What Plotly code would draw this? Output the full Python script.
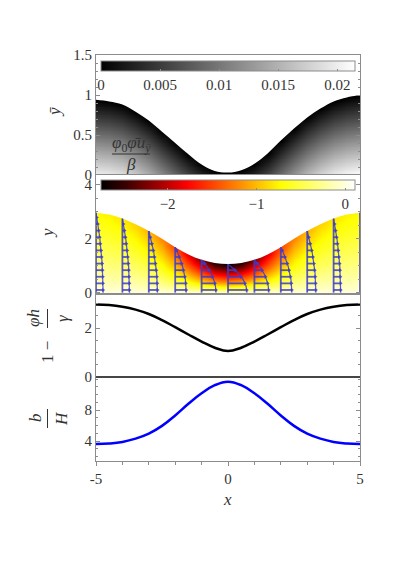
import numpy as np
import plotly.graph_objects as go
from plotly.subplots import make_subplots

# sample positions along x (every 0.5)
x_pts = np.arange(-5, 5.01, 0.5)

# top of the gray field, panel 1 (y bar)
ybar_top = [0.94, 0.92, 0.88, 0.79, 0.68, 0.54, 0.40, 0.26, 0.13, 0.05, 0.03,
            0.06, 0.14, 0.27, 0.43, 0.58, 0.72, 0.83, 0.92, 0.97, 1.00]
# top of the layer, panel 2 (y)
h_top = [2.97, 2.90, 2.75, 2.54, 2.29, 2.00, 1.69, 1.42, 1.22, 1.10, 1.06,
         1.10, 1.22, 1.42, 1.69, 2.00, 2.29, 2.54, 2.75, 2.90, 2.97]
# 1 - phi h / gamma, panel 3
one_minus = [2.97, 2.95, 2.88, 2.76, 2.58, 2.33, 2.04, 1.74, 1.45, 1.20, 1.06,
             1.20, 1.45, 1.74, 2.04, 2.33, 2.58, 2.76, 2.88, 2.95, 2.97]
# b / H, panel 4
b_over_H = [3.6, 3.68, 3.88, 4.3, 4.95, 5.95, 7.3, 8.8, 10.15, 11.2, 11.65,
            11.2, 10.15, 8.8, 7.3, 5.95, 4.95, 4.3, 3.88, 3.68, 3.6]

# velocity profiles drawn in panel 2
prof_x = [-5, -4, -3, -2, -1, 0, 1, 2, 3, 4, 5]
prof_umax = [0.27, 0.27, 0.33, 0.42, 0.55, 0.72, 0.55, 0.42, 0.33, 0.27, 0.27]

gray_ticks = [0, 0.005, 0.01, 0.015, 0.02]
gray_text = ['0', '0.005', '0.01', '0.015', '0.02']
heat_ticks = [-2, -1, 0]

FONT = 'Liberation Serif'
AX = '#8c8c8c'
BLUE = 'rgba(60,60,205,0.85)'

# the page body adds an 8px margin, so the figure is drawn 8px smaller
OFF = 8


def px(xp):
    return (xp - 96) / 264


def py(yp):
    return (461 - yp) / 406


fig = make_subplots(rows=4, cols=1, shared_xaxes=True, vertical_spacing=0,
                    row_heights=[120, 119, 83, 84])

# panel 1: gray field below the curve
ys1 = np.linspace(0, 1.05, 106)
z1 = [[0.0215 * max(t - y, 0) for t in ybar_top] for y in ys1]
fig.add_trace(go.Heatmap(
    x=x_pts, y=ys1, z=z1, zsmooth='best', zmin=0, zmax=0.0215,
    colorscale=[[0, 'black'], [1, 'white']], hoverinfo='skip',
    colorbar=dict(orientation='h', x=0.5, xanchor='center', y=py(61), yanchor='top',
                  len=254 / 264, thickness=10, xpad=0, ypad=0,
                  outlinecolor=AX, outlinewidth=1,
                  tickvals=gray_ticks, ticktext=gray_text, ticks='inside', ticklen=2,
                  tickcolor=AX, tickfont=dict(family=FONT, size=15, color='#333'))),
    row=1, col=1)
fig.add_trace(go.Scatter(x=x_pts, y=[1.6] * len(x_pts), mode='lines',
                         line=dict(width=0), hoverinfo='skip', showlegend=False), row=1, col=1)
fig.add_trace(go.Scatter(x=x_pts, y=ybar_top, mode='lines', fill='tonexty', fillcolor='white',
                         line=dict(width=0, shape='spline'), hoverinfo='skip',
                         showlegend=False), row=1, col=1)

# panel 2: heat field below the layer top
ys2 = np.linspace(0, 3.05, 123)
z2 = [[-2.9 * (min(y, t) / t) ** 0.8 / t ** 1.25 for t in h_top] for y in ys2]
heat = [[0, '#000000'], [0.1, '#3c0000'], [0.22, '#9a0000'], [0.34, '#ff0000'],
        [0.52, '#ff7a00'], [0.71, '#ffff00'], [0.88, '#ffff9a'], [1, '#ffffff']]
fig.add_trace(go.Heatmap(
    x=x_pts, y=ys2, z=z2, zsmooth='best', zmin=-2.75, zmax=0.11,
    colorscale=heat, hoverinfo='skip',
    colorbar=dict(orientation='h', x=0.5, xanchor='center', y=py(180), yanchor='top',
                  len=254 / 264, thickness=10, xpad=0, ypad=0,
                  outlinecolor=AX, outlinewidth=1,
                  tickvals=heat_ticks, ticks='inside', ticklen=2, tickcolor=AX,
                  tickfont=dict(family=FONT, size=15, color='#333'))),
    row=2, col=1)
fig.add_trace(go.Scatter(x=x_pts, y=[4.5] * len(x_pts), mode='lines',
                         line=dict(width=0), hoverinfo='skip', showlegend=False), row=2, col=1)
fig.add_trace(go.Scatter(x=x_pts, y=h_top, mode='lines', fill='tonexty', fillcolor='white',
                         line=dict(width=0, shape='spline'), hoverinfo='skip',
                         showlegend=False), row=2, col=1)

# velocity profiles
h_prof = h_top[::2]
sx, sy, hx, hy, ex, ey = [], [], [], [], [], []
for x0, um, h in zip(prof_x, prof_umax, h_prof):
    # wall line
    sx += [x0, x0, None]
    sy += [0, h, None]
    # envelope
    yy = np.linspace(0, h, 30)
    ex += list(x0 + um * (1 - (yy / h) ** 2)) + [None]
    ey += list(yy) + [None]
    # arrows
    y = 0.1
    while y < h - 0.05:
        u = um * (1 - (y / h) ** 2)
        sx += [x0, x0 + u, None]
        sy += [y, y, None]
        hx.append(x0 + u)
        hy.append(y)
        y += 0.245
fig.add_trace(go.Scatter(x=ex, y=ey, mode='lines', line=dict(color=BLUE, width=1.2),
                         hoverinfo='skip', showlegend=False), row=2, col=1)
fig.add_trace(go.Scatter(x=sx, y=sy, mode='lines', line=dict(color=BLUE, width=1.8),
                         hoverinfo='skip', showlegend=False), row=2, col=1)
fig.add_trace(go.Scatter(x=hx, y=hy, mode='markers',
                         marker=dict(symbol='triangle-right', size=4, color=BLUE),
                         hoverinfo='skip', showlegend=False), row=2, col=1)

# panel 3
fig.add_hline(y=1, line=dict(color='#dcdcdc', width=1.5), row=3, col=1)
fig.add_trace(go.Scatter(x=x_pts, y=one_minus, mode='lines',
                         line=dict(color='black', width=2.5, shape='spline', smoothing=1.2),
                         showlegend=False), row=3, col=1)

# panel 4
fig.add_trace(go.Scatter(x=x_pts, y=b_over_H, mode='lines',
                         line=dict(color='#0000ff', width=2.5, shape='spline', smoothing=1.2),
                         showlegend=False), row=4, col=1)
fig.add_shape(type='line', xref='x4 domain', yref='y4 domain', x0=0, x1=1, y0=1, y1=1,
              line=dict(color='black', width=1))

tickfont = dict(family=FONT, size=15, color='#333')
yspecs = [
    ([0, 0.5, 1, 1.5], ['0', '0.5', '1', '1.5'], [0, 1.5], 0.1),
    ([0, 2, 4], ['0', '2', '4'], [-0.05, 4.37], 0.5),
    ([0, 2], ['0', '2'], [0, 3.4], 0.5),
    ([4, 8], ['4', '8'], [1.42, 12.26], 1),
]
for i, (tv, tt, rng, md) in enumerate(yspecs, start=1):
    fig.update_yaxes(row=i, col=1, range=rng, tickvals=tv, ticktext=tt, ticks='inside',
                     ticklen=4, tickcolor=AX, showline=True, linecolor=AX, linewidth=1,
                     mirror='ticks', showgrid=False, zeroline=False, tickfont=tickfont,
                     minor=dict(dtick=md, ticks='inside', ticklen=2, tickcolor=AX))
for i in range(1, 5):
    fig.update_xaxes(row=i, col=1, range=[-5, 5], showline=True, linecolor=AX, linewidth=1,
                     mirror=True, showgrid=False, zeroline=False, ticks='',
                     showticklabels=False)
fig.update_xaxes(row=4, col=1, tickvals=[-5, 0, 5], ticktext=['-5', '0', '5'],
                 showticklabels=True, ticks='outside', ticklen=4, tickcolor=AX,
                 tickfont=tickfont,
                 minor=dict(dtick=1, ticks='outside', ticklen=3, tickcolor=AX))

# axis labels
lab = dict(family=FONT, size=17, color='#333')
ann = [
    dict(x=px(54), y=py(112), text='<i>ȳ</i>', textangle=-90),
    dict(x=px(47), y=py(233), text='<i>y</i>', textangle=-90),
    dict(x=px(47), y=py(352), text='1 −', textangle=-90),
    dict(x=px(33), y=py(318), text='<i>φh</i>', textangle=-90),
    dict(x=px(62), y=py(318), text='<i>γ</i>', textangle=-90),
    dict(x=px(35), y=py(418), text='<i>b</i>', textangle=-90),
    dict(x=px(61), y=py(419), text='<i>H</i>', textangle=-90),
    dict(x=px(227), y=py(499), text='<i>x</i>', textangle=0),
    dict(x=px(131), y=py(144), text='<i>φ</i><sub>0</sub><i>φ̄u</i><sub><i>ȳ</i></sub>',
         textangle=0),
    dict(x=px(131), y=py(164), text='<i>β</i>', textangle=0),
]
for a in ann:
    fig.add_annotation(xref='paper', yref='paper', showarrow=False, font=lab,
                       xanchor='center', yanchor='middle', **a)
bars = [(px(112), py(154), px(150), py(154)),
        (px(47.5), py(309), px(47.5), py(328)),
        (px(47.5), py(409), px(47.5), py(428))]
for x0, y0, x1, y1 in bars:
    fig.add_shape(type='line', xref='paper', yref='paper', x0=x0, y0=y0, x1=x1, y1=y1,
                  line=dict(color='#333', width=1))

fig.update_layout(width=399 - OFF, height=564 - OFF,
                  margin=dict(l=96 - OFF, r=39, t=55 - OFF, b=103),
                  paper_bgcolor='white', plot_bgcolor='white', showlegend=False,
                  font=dict(family=FONT, color='#333'))
fig.write_html("out.html")
